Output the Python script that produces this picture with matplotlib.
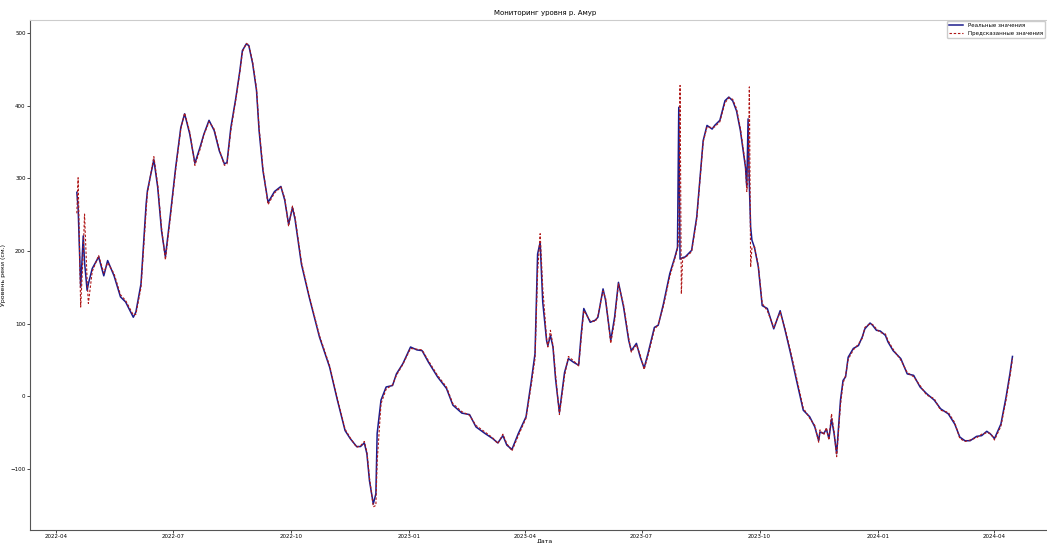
import pandas as pd
import matplotlib
matplotlib.use("Agg")
import matplotlib.pyplot as plt
import matplotlib.dates as mdates

dates = [
    "2022-04-17", "2022-04-18", "2022-04-20", "2022-04-22", "2022-04-23", "2022-04-25",
    "2022-04-26", "2022-04-29", "2022-05-04", "2022-05-08", "2022-05-11", "2022-05-16",
    "2022-05-21", "2022-05-25", "2022-05-31", "2022-06-02", "2022-06-06", "2022-06-10",
    "2022-06-11", "2022-06-16", "2022-06-19", "2022-06-22", "2022-06-25", "2022-06-29",
    "2022-07-03", "2022-07-07", "2022-07-10", "2022-07-14", "2022-07-18", "2022-07-22",
    "2022-07-25", "2022-07-29", "2022-08-02", "2022-08-06", "2022-08-10", "2022-08-12",
    "2022-08-15", "2022-08-19", "2022-08-22", "2022-08-24", "2022-08-27", "2022-08-29",
    "2022-09-01", "2022-09-04", "2022-09-06", "2022-09-09", "2022-09-13", "2022-09-18",
    "2022-09-23", "2022-09-26", "2022-09-29", "2022-10-02", "2022-10-04", "2022-10-09",
    "2022-10-15", "2022-10-23", "2022-10-31", "2022-11-06", "2022-11-12", "2022-11-16",
    "2022-11-21", "2022-11-24", "2022-11-27", "2022-11-29", "2022-12-01", "2022-12-04",
    "2022-12-06", "2022-12-07", "2022-12-10", "2022-12-14", "2022-12-19", "2022-12-22",
    "2022-12-27", "2023-01-02", "2023-01-07", "2023-01-11", "2023-01-16", "2023-01-23",
    "2023-01-30", "2023-02-04", "2023-02-11", "2023-02-17", "2023-02-22", "2023-03-01",
    "2023-03-07", "2023-03-11", "2023-03-15", "2023-03-18", "2023-03-22", "2023-03-27",
    "2023-04-02", "2023-04-06", "2023-04-09", "2023-04-11", "2023-04-13", "2023-04-15",
    "2023-04-18", "2023-04-19", "2023-04-21", "2023-04-23", "2023-04-25", "2023-04-28",
    "2023-05-02", "2023-05-05", "2023-05-09", "2023-05-13", "2023-05-15", "2023-05-17",
    "2023-05-22", "2023-05-26", "2023-05-28", "2023-06-01", "2023-06-03", "2023-06-07",
    "2023-06-10", "2023-06-13", "2023-06-17", "2023-06-21", "2023-06-23", "2023-06-27",
    "2023-06-30", "2023-07-03", "2023-07-06", "2023-07-11", "2023-07-14", "2023-07-18",
    "2023-07-23", "2023-07-27", "2023-07-29", "2023-07-30", "2023-07-31", "2023-08-01",
    "2023-08-02", "2023-08-04", "2023-08-09", "2023-08-13", "2023-08-16", "2023-08-18",
    "2023-08-21", "2023-08-25", "2023-08-27", "2023-08-31", "2023-09-04", "2023-09-07",
    "2023-09-10", "2023-09-13", "2023-09-16", "2023-09-20", "2023-09-21", "2023-09-22",
    "2023-09-23", "2023-09-24", "2023-09-25", "2023-09-27", "2023-09-30", "2023-10-03",
    "2023-10-07", "2023-10-12", "2023-10-17", "2023-10-21", "2023-10-25", "2023-10-30",
    "2023-11-04", "2023-11-09", "2023-11-13", "2023-11-16", "2023-11-17", "2023-11-20",
    "2023-11-22", "2023-11-24", "2023-11-26", "2023-11-28", "2023-11-30", "2023-12-03",
    "2023-12-05", "2023-12-07", "2023-12-09", "2023-12-13", "2023-12-17", "2023-12-20",
    "2023-12-22", "2023-12-26", "2023-12-28", "2023-12-31", "2024-01-03", "2024-01-07",
    "2024-01-09", "2024-01-13", "2024-01-19", "2024-01-24", "2024-01-29", "2024-02-03",
    "2024-02-08", "2024-02-14", "2024-02-19", "2024-02-25", "2024-03-01", "2024-03-05",
    "2024-03-09", "2024-03-13", "2024-03-18", "2024-03-22", "2024-03-26", "2024-03-29",
    "2024-04-01", "2024-04-06", "2024-04-10", "2024-04-13", "2024-04-15",
]

# реальный уровень, см
real_level = [
    281, 260, 150, 221, 185, 146,
    155, 176, 192, 166, 187, 166,
    137, 130, 109, 116, 155, 265,
    283, 326, 288, 228, 192, 252,
    315, 370, 389, 361, 321, 343,
    361, 380, 366, 338, 320, 322,
    370, 412, 448, 476, 485, 483,
    458, 421, 366, 311, 267, 282,
    289, 270, 237, 260, 244, 182,
    137, 82, 40, -5, -47, -58,
    -69, -69, -64, -79, -116, -148,
    -134, -51, -5, 13, 15, 31,
    45, 68, 64, 63, 47, 27,
    11, -12, -23, -25, -42, -51,
    -58, -64, -54, -67, -73, -51,
    -28, 20, 59, 196, 212, 130,
    77, 70, 84, 68, 24, -22,
    33, 52, 47, 43, 86, 121,
    102, 105, 109, 148, 132, 77,
    109, 157, 123, 77, 63, 73,
    54, 39, 59, 95, 98, 127,
    169, 192, 205, 398, 189, 190,
    191, 192, 201, 247, 311, 352,
    373, 368, 373, 380, 407, 412,
    407, 393, 366, 315, 288, 382,
    290, 233, 215, 205, 178, 125,
    121, 93, 118, 90, 60, 20,
    -19, -28, -42, -61, -49, -51,
    -45, -58, -31, -51, -79, -5,
    22, 27, 54, 66, 70, 82,
    93, 101, 98, 91, 90, 84,
    75, 63, 52, 31, 29, 13,
    4, -5, -17, -24, -38, -56,
    -61, -61, -55, -54, -48, -52,
    -58, -38, -1, 31, 55,
]

# предсказанный уровень, см
pred_level = [
    252, 301, 123, 200, 251, 160,
    128, 172, 194, 170, 184, 169,
    140, 132, 112, 113, 150, 256,
    280, 330, 292, 232, 188, 248,
    312, 368, 390, 364, 318, 340,
    360, 378, 368, 340, 318, 320,
    366, 410, 446, 474, 486, 484,
    460, 424, 370, 314, 264, 280,
    288, 273, 234, 262, 247, 185,
    139, 84, 42, -3, -45, -57,
    -70, -68, -62, -76, -112, -152,
    -150, -90, -10, 10, 16, 29,
    44, 66, 65, 64, 49, 29,
    13, -10, -21, -26, -40, -49,
    -57, -65, -52, -65, -75, -54,
    -30, 15, 52, 170, 224, 150,
    80, 68, 91, 70, 30, -25,
    28, 55, 49, 42, 80, 118,
    104, 103, 111, 145, 135, 73,
    104, 155, 126, 80, 61, 71,
    57, 37, 56, 92, 99, 124,
    165, 190, 203, 215, 428, 141,
    190, 191, 199, 244, 307, 350,
    371, 370, 371, 378, 404, 411,
    409, 396, 369, 318, 282, 300,
    426, 178, 205, 206, 180, 128,
    118, 95, 116, 92, 63, 24,
    -16, -30, -40, -63, -46, -53,
    -43, -60, -24, -48, -83, -12,
    18, 29, 51, 64, 72, 80,
    95, 100, 99, 93, 88, 86,
    77, 65, 50, 33, 27, 15,
    2, -3, -19, -22, -36, -58,
    -62, -60, -57, -52, -50, -51,
    -60, -41, -5, 27, 52,
]

x = pd.to_datetime(dates)

fig = plt.figure(figsize=(10.47, 5.43), dpi=100)
ax = fig.add_axes([0.0287, 0.0239, 0.983, 0.939])

ax.plot(x, real_level, color="#1c1c8c", linewidth=1.1, label="Реальные значения")
ax.plot(x, pred_level, color="#b01818", linestyle="--", dashes=(2.2, 1.6),
        linewidth=0.8, label="Предсказанные значения")

ax.set_title("Мониторинг уровня р. Амур", fontsize=5, pad=4)
ax.set_xlabel("Дата", fontsize=4.5)
ax.xaxis.set_label_coords(0.5, -0.0155)
ax.set_ylabel("Уровень реки (см.)", fontsize=4.5, labelpad=3)

ax.xaxis.set_major_locator(mdates.MonthLocator(bymonth=[1, 4, 7, 10]))
ax.xaxis.set_major_formatter(mdates.DateFormatter("%Y-%m"))
ax.tick_params(labelsize=4, length=2, width=0.5, pad=1.2)

for side in ["left", "bottom"]:
    ax.spines[side].set_linewidth(0.8)
    ax.spines[side].set_color("#555555")
for side in ["top", "right"]:
    ax.spines[side].set_linewidth(0.8)
    ax.spines[side].set_color("#cccccc")

# легенда прижата к правому краю картинки, чтобы подпись не обрезалась
ax.legend(loc="upper right", fontsize=4, framealpha=1, handlelength=2.5,
          bbox_to_anchor=(1045 / 1047, 1 - 21 / 543), bbox_transform=fig.transFigure,
          borderaxespad=0)

fig.savefig("out.png", dpi=100)
